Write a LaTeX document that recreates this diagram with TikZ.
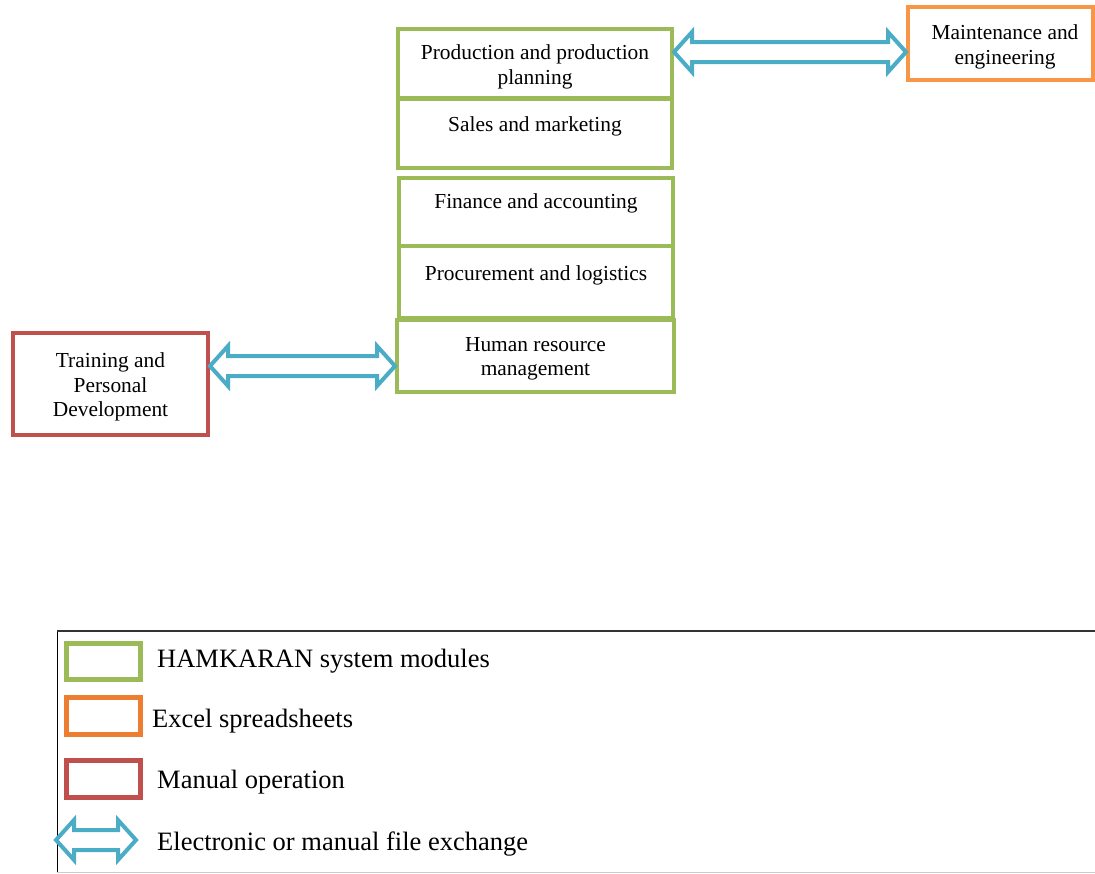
\documentclass[tikz,border=0pt]{standalone}
\usepackage{fontspec}
\setmainfont{Liberation Serif}
\usetikzlibrary{calc}
\definecolor{hgreen}{HTML}{9BBB59}
\definecolor{horange}{HTML}{F79646}
\definecolor{lorange}{HTML}{ED7D31}
\definecolor{hred}{HTML}{C0504D}
\definecolor{hblue}{HTML}{4BACC6}
\newcommand{\dblarr}[2]{%
  \draw[arr] let \p1=(#1), \p2=(#2) in
    (\x1,\y1) -- ++(18pt,20pt) -- ++(0,-10pt) -- (\x2-18pt,\y2+10pt) -- ++(0,10pt)
    -- (\x2,\y2) -- ++(-18pt,-20pt) -- ++(0,10pt) -- (\x1+18pt,\y1-10pt) -- ++(0,-10pt) -- cycle;}
\tikzset{
  box/.style={draw, line width=4pt, inner sep=0pt},
  gbox/.style={box, draw=hgreen},
  obox/.style={box, draw=horange},
  rbox/.style={box, draw=hred},
  txt/.style={inner sep=0pt, align=center, font=\fontsize{21.4}{24.5}\selectfont},
  arr/.style={draw=hblue, line width=4pt, fill=white, line join=miter},
  legtxt/.style={anchor=west, inner sep=0pt, font=\fontsize{26.5}{30}\selectfont},
  legbox/.style={draw, line width=5pt, minimum width=74pt, minimum height=36pt, inner sep=0pt},
}
\begin{document}
\begin{tikzpicture}[x=1pt, y=-1pt]
\useasboundingbox (0,0) rectangle (1095,873);
% main modules
\node[gbox, minimum width=274pt, minimum height=69pt] (prod) at (535,63.5) {};
\node[gbox, minimum width=274pt, minimum height=69pt] (sales) at (535,133) {};
\node[gbox, minimum width=274pt, minimum height=68pt] (fin) at (536,212) {};
\node[gbox, minimum width=274pt, minimum height=72pt] (proc) at (536,282) {};
\node[gbox, minimum width=277pt, minimum height=72pt] (hr) at (535.5,356) {};
\node[obox, minimum width=185pt, minimum height=73pt] (maint) at (1000.5,43.5) {};
\node[rbox, minimum width=195pt, minimum height=102pt] (train) at (110.5,384) {};
\begin{scope}
\clip (398,29) rectangle (672,88);
\node[txt] (prodt) at (535,67) {Production and production\\planning};
\end{scope}
\node[txt] (salest) at (535,126) {Sales and marketing};
\node[txt] (fint) at (536,203) {Finance and accounting};
\node[txt] (proct) at (536,275) {Procurement and logistics};
\node[txt] (hrt) at (535.5,359) {Human resource\\management};
\node[txt] (maintt) at (1005,47) {Maintenance and\\engineering};
\node[txt] (traint) at (110.5,387) {Training and\\Personal\\Development};
% arrows
\dblarr{prod.east |- 0,52}{maint.west |- 0,52}
\dblarr{train.east |- 0,366}{hr.west |- 0,366}
% legend
\coordinate (lgtl) at (57,631);
\coordinate (lgbr) at (1096,872);
\draw[gray!40, line width=1pt] (lgtl |- lgbr) -- (lgbr);
\draw[black, line width=1pt] (lgtl) -- (lgtl |- lgbr);
\draw[black!80, line width=2pt] (lgtl) -- (lgtl -| lgbr);
\node[legbox, draw=hgreen] (lg1) at (103,661) {};
\node[legbox, draw=lorange, minimum height=37pt] (lg2) at (103,715.5) {};
\node[legbox, draw=hred, minimum height=37pt] (lg3) at (103,778.5) {};
\coordinate (la1) at (56,840);
\coordinate (la2) at (136,840);
\dblarr{la1}{la2}
\node[legtxt] (l1) at (157,661) {HAMKARAN system modules};
\node[legtxt] (l2) at (152,721) {Excel spreadsheets};
\node[legtxt] (l3) at (157,782) {Manual operation};
\node[legtxt] (l4) at (157,844) {Electronic or manual file exchange};
\end{tikzpicture}
\end{document}
